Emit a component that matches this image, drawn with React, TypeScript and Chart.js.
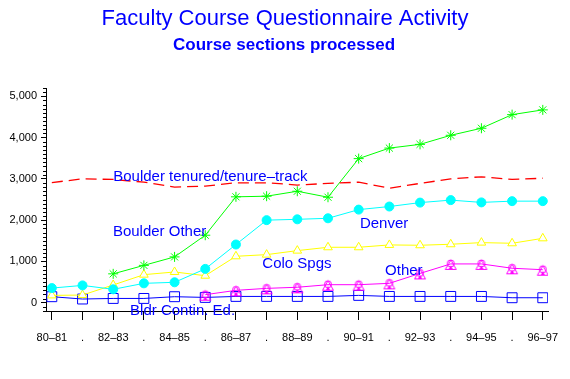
import { useEffect, useRef } from "react";
import { Chart, registerables } from "chart.js";
Chart.register(...registerables);

const categories = ["80–81", ".", "82–83", ".", "84–85", ".", "86–87", ".", "88–89", ".", "90–91", ".", "92–93", ".", "94–95", ".", "96–97"];
const tenured = [2910, 3000, 2985, 2920, 2800, 2825, 2905, 2905, 2850, 2890, 2920, 2775, 2890, 3000, 3050, 2985, 3015];
const boulderOther = [null, null, 700, 905, 1110, 1635, 2565, 2580, 2700, 2555, 3490, 3745, 3835, 4055, 4225, 4555, 4670];
const denver = [355, 420, 325, 470, 495, 820, 1410, 2000, 2020, 2045, 2255, 2330, 2425, 2485, 2430, 2460, 2460];
const coloSpgs = [178, 186, 430, 680, 745, 655, 1125, 1165, 1262, 1343, 1343, 1400, 1392, 1416, 1456, 1440, 1560];
const other = [null, null, null, null, null, 195, 300, 348, 375, 437, 437, 470, 710, 940, 940, 835, 800];
const contEd = [146, 90, 104, 104, 146, 129, 153, 153, 153, 153, 178, 153, 153, 153, 153, 121, 121];
const seriesNames = ["Boulder tenured/tenure–track", "Boulder Other", "Denver", "Colo Spgs", "Other", "Bldr Contin. Ed."];
const yTickStep = 100;
const yLabelStep = 1000;

const FONT = '"Liberation Sans", Arial, Helvetica, sans-serif';

function toPoints(arr: (number | null)[]) {
  return arr.map((v, i) => ({ x: i, y: v }));
}

function makeOtherMarker(): HTMLCanvasElement {
  const c = document.createElement("canvas");
  c.width = 14;
  c.height = 14;
  const g = c.getContext("2d")!;
  g.strokeStyle = "#FF00FF";
  g.fillStyle = "#FF00FF";
  g.lineWidth = 1;
  g.beginPath();
  g.moveTo(7, 3);
  g.lineTo(12.5, 12.5);
  g.lineTo(1.5, 12.5);
  g.closePath();
  g.stroke();
  g.beginPath();
  g.arc(7, 6.5, 3.5, 0, Math.PI * 2);
  g.stroke();
  g.beginPath();
  g.moveTo(7, 8.5);
  g.lineTo(9, 12);
  g.lineTo(5, 12);
  g.closePath();
  g.fill();
  return c;
}

export default function App() {
  const ref = useRef<HTMLCanvasElement | null>(null);
  useEffect(() => {
    document.body.style.margin = "0";
    const canvas = ref.current!;
    const annotations = [
      { text: seriesNames[0], x: 2, y: 2960 },
      { text: seriesNames[1], x: 1.99, y: 1625 },
      { text: seriesNames[2], x: 10.04, y: 1820 },
      { text: seriesNames[3], x: 6.86, y: 840 },
      { text: seriesNames[4], x: 10.86, y: 680 },
      { text: seriesNames[5], x: 2.55, y: -290 },
    ];
    const textPlugin = {
      id: "texts",
      afterDraw(chart: any) {
        const ctx = chart.ctx;
        const xs = chart.scales.x;
        const ys = chart.scales.y;
        ctx.save();
        ctx.strokeStyle = "#000";
        ctx.lineWidth = 1;
        const left = Math.round(chart.chartArea.left);
        ys.ticks.forEach((t: any) => {
          const v = Math.round(t.value);
          if (v % yLabelStep !== 0) {
            const py = Math.round(ys.getPixelForValue(v)) + 0.5;
            ctx.beginPath();
            ctx.moveTo(left - 3, py);
            ctx.lineTo(left, py);
            ctx.stroke();
          }
        });
        ctx.fillStyle = "#0000FF";
        ctx.textAlign = "center";
        ctx.textBaseline = "alphabetic";
        ctx.font = `22px ${FONT}`;
        ctx.fillText("Faculty Course Questionnaire Activity", 285, 25);
        ctx.font = `bold 17px ${FONT}`;
        ctx.fillText("Course sections processed", 284, 50);
        ctx.textAlign = "left";
        ctx.font = `15px ${FONT}`;
        annotations.forEach((a) => {
          ctx.fillText(a.text, xs.getPixelForValue(a.x), ys.getPixelForValue(a.y));
        });
        ctx.restore();
      },
    };
    const chart = new Chart(canvas, {
      type: "line",
      data: {
        datasets: [
          {
            label: seriesNames[0],
            data: toPoints(tenured),
            borderColor: "#FF0000",
            borderWidth: 1.3,
            borderDash: [11, 6],
            pointRadius: 0,
          },
          {
            label: seriesNames[1],
            data: toPoints(boulderOther),
            borderColor: "#00FF00",
            borderWidth: 1,
            pointStyle: "star",
            pointRadius: 5,
            pointBorderColor: "#00FF00",
            pointBorderWidth: 1,
          },
          {
            label: seriesNames[2],
            data: toPoints(denver),
            borderColor: "#00FFFF",
            borderWidth: 1,
            pointStyle: "circle",
            pointRadius: 4.5,
            pointBackgroundColor: "#00FFFF",
            pointBorderColor: "#00FFFF",
          },
          {
            label: seriesNames[3],
            data: toPoints(coloSpgs),
            borderColor: "#FFFF00",
            borderWidth: 1,
            pointStyle: "triangle",
            pointRadius: 5,
            pointBackgroundColor: "#FFFFFF",
            pointBorderColor: "#FFFF00",
            pointBorderWidth: 1,
          },
          {
            label: seriesNames[4],
            data: toPoints(other),
            borderColor: "#FF00FF",
            borderWidth: 1,
            pointStyle: makeOtherMarker() as any,
            pointRadius: 6,
          },
          {
            label: seriesNames[5],
            data: toPoints(contEd),
            borderColor: "#0000FF",
            borderWidth: 1,
            pointStyle: "rect",
            pointRadius: 7,
            pointBackgroundColor: "rgba(255,255,255,0)",
            pointBorderColor: "#0000FF",
            pointBorderWidth: 1,
          },
        ],
      },
      options: {
        animation: false,
        responsive: false,
        devicePixelRatio: 1,
        spanGaps: false,
        layout: { padding: { top: 88, right: 22, left: 0, bottom: 0 } },
        plugins: { legend: { display: false }, tooltip: { enabled: false }, title: { display: false } },
        scales: {
          x: {
            type: "linear",
            min: -0.19,
            max: 16.17,
            afterBuildTicks: (s: any) => {
              s.ticks = categories.map((_, i) => ({ value: i }));
            },
            afterFit: (s: any) => {
              s.height = 68;
            },
            ticks: {
              autoSkip: false,
              maxRotation: 0,
              padding: 11,
              color: "#000",
              font: { family: FONT, size: 11 },
              callback: (v: any) => categories[Math.round(Number(v))] ?? "",
            },
            grid: { drawOnChartArea: false, tickLength: 9, tickColor: "#000" },
            border: { color: "#000", width: 1 },
          },
          y: {
            type: "linear",
            min: -200,
            max: 5200,
            afterFit: (s: any) => {
              s.width = 46;
            },
            ticks: {
              stepSize: yTickStep,
              autoSkip: false,
              padding: 4,
              color: "#000",
              font: { family: FONT, size: 11 },
              callback: (v: any) => {
                const n = Math.round(Number(v));
                return n % yLabelStep === 0 && n >= 0 ? n.toLocaleString("en-US") : "";
              },
            },
            grid: {
              drawOnChartArea: false,
              tickLength: 5,
              tickColor: (c: any) => (Math.round(c.tick.value) % yLabelStep === 0 ? "#000" : "rgba(0,0,0,0)"),
            },
            border: { color: "#000", width: 1 },
          },
        },
      },
      plugins: [textPlugin],
    } as any);
    return () => chart.destroy();
  }, []);
  return <canvas ref={ref} width={570} height={379} style={{ display: "block", width: 570, height: 379 }} />;
}
